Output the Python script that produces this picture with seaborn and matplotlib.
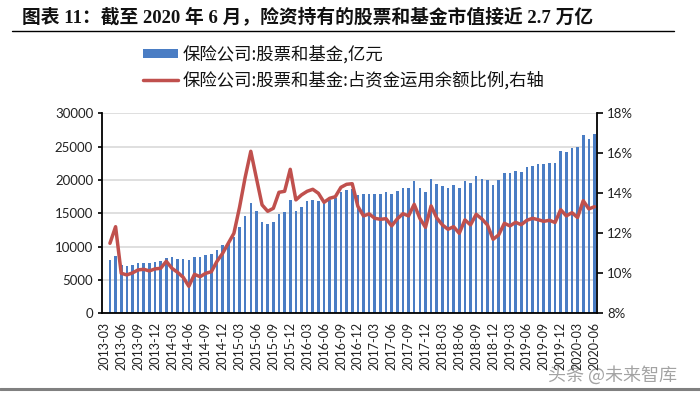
import numpy as np
import pandas as pd
import matplotlib
matplotlib.use("Agg")
import matplotlib.pyplot as plt
from matplotlib.lines import Line2D
import seaborn as sns

# ---------------- data ----------------
months = pd.date_range("2013-03-01", periods=88, freq="MS").strftime("%Y-%m").tolist()

stock_fund = [None, 8000, 8650, 7250, 7100, 7250, 7500, 7500, 7500, 7750, 7850, 8250,
              8400, 8150, 8150, 8000, 8400, 8400, 8750, 8900, 9500, 10250, 10600, 11400,
              13000, 14600, 16500, 15400, 13750, 13350, 13750, 14900, 15250, 17000, 15400,
              15900, 16850, 17000, 16850, 16700, 17000, 17300, 18250, 18550, 18700, 17750,
              17850, 17900, 17900, 17900, 18150, 17900, 18400, 18750, 18750, 19850, 18750,
              18250, 20100, 19350, 19100, 18750, 19250, 18850, 19800, 19600, 20600, 20100,
              20000, 19250, 20000, 21000, 21100, 21350, 21250, 21900, 22150, 22350, 22350,
              22500, 22500, 24400, 24250, 24750, 24900, 26750, 26100, 26850]

ratio = [None, 11.5, 12.33, 10.0, 9.92, 10.02, 10.17, 10.2, 10.12, 10.22, 10.25, 10.6,
         10.25, 10.05, 9.8, 9.35, 9.95, 9.83, 10.0, 10.08, 10.6, 11.0, 11.5, 12.0,
         13.3, 14.8, 16.1, 14.75, 13.42, 13.1, 13.25, 14.05, 14.1, 15.2, 13.67,
         13.92, 14.1, 14.2, 14.0, 13.55, 13.75, 13.83, 14.3, 14.45, 14.48, 13.35,
         12.87, 12.97, 12.75, 12.7, 12.73, 12.37, 12.72, 12.98, 12.87, 13.45, 12.75,
         12.3, 13.37, 12.77, 12.42, 12.2, 12.33, 12.0, 12.67, 12.42, 12.95, 12.72,
         12.42, 11.7, 11.92, 12.5, 12.37, 12.55, 12.43, 12.65, 12.75, 12.68, 12.6,
         12.65, 12.54, 13.18, 12.87, 13.03, 12.79, 13.63, 13.22, 13.33]

left_ticks = [0, 5000, 10000, 15000, 20000, 25000, 30000]
right_ticks = [8, 10, 12, 14, 16, 18]

title = "图表 11：截至 2020 年 6 月，险资持有的股票和基金市值接近 2.7 万亿"
label_bar = "保险公司:股票和基金,亿元"
label_line = "保险公司:股票和基金:占资金运用余额比例,右轴"
watermark = "头条 @未来智库"

df = pd.DataFrame({"month": months,
                   "value": pd.array(stock_fund, dtype="Float64").astype(float),
                   "ratio": pd.array(ratio, dtype="Float64").astype(float)})
df["pos"] = np.arange(len(df))

# ---------------- style ----------------
sns.set_style("white")
plt.rcParams["font.family"] = ["Lato", "Noto Sans CJK SC", "DejaVu Sans"]
plt.rcParams["axes.unicode_minus"] = False

W, H = 700, 394
fig = plt.figure(figsize=(W / 100, H / 100), dpi=100)
ax = fig.add_axes([101.5 / W, 1 - 313.3 / H, (597.3 - 101.5) / W, 200 / H])

bar_color = "#4A7DC4"
line_color = "#C0504D"

sns.barplot(data=df.dropna(subset=["value"]), x="month", y="value", order=months,
            color=bar_color, saturation=1, width=0.46, errorbar=None, ax=ax,
            label=label_bar, linewidth=0)

ax.set_xlim(-0.5, len(months) - 0.5)
ax.set_ylim(0, 30000)
ax.set_yticks(left_ticks)
ax.set_yticklabels([str(v) for v in left_ticks], fontsize=9.5)
ax.yaxis.grid(True, color="#D9D9D9", lw=1.2)
ax.set_axisbelow(True)
ax.set_xlabel("")
ax.set_ylabel("")

xt = list(range(0, len(months), 3))
ax.set_xticks(xt)
ax.set_xticklabels([months[i] for i in xt], rotation=90, fontsize=9)
ax.set_xticks(np.arange(-0.5, len(months), 3), minor=True)
ax.tick_params(axis="x", which="major", length=0, pad=6, colors="#222222")
ax.tick_params(axis="x", which="minor", length=4, width=1.2, color="black", direction="out")
ax.tick_params(axis="y", length=3, width=1.2, color="black", direction="out", pad=3,
               labelcolor="#222222")

for s in ["top", "right"]:
    ax.spines[s].set_visible(False)
for s in ["left", "bottom"]:
    ax.spines[s].set_color("black")
    ax.spines[s].set_linewidth(1.3)

ax2 = ax.twinx()
sns.lineplot(data=df.dropna(subset=["ratio"]), x="pos", y="ratio", ax=ax2,
             color=line_color, lw=2.5, label=label_line, legend=False,
             solid_joinstyle="round", solid_capstyle="round")
ax2.set_xlim(-0.5, len(months) - 0.5)
ax2.set_ylim(8, 18)
ax2.set_yticks(right_ticks)
ax2.set_yticklabels([f"{v}%" for v in right_ticks], fontsize=9.5)
ax2.set_ylabel("")
ax2.set_xlabel("")
ax2.tick_params(axis="y", length=4, width=1.2, color="black", direction="out", pad=3,
                labelcolor="#222222")
for s in ["top", "left", "bottom"]:
    ax2.spines[s].set_visible(False)
ax2.spines["right"].set_color("black")
ax2.spines["right"].set_linewidth(1.3)
ax2.grid(False)

# legend
h1, l1 = ax.get_legend_handles_labels()
h2, l2 = ax2.get_legend_handles_labels()
if ax.get_legend() is not None:
    ax.get_legend().remove()
leg = fig.legend(h1 + h2, l1 + l2, loc="upper left",
                 bbox_to_anchor=(143 / W, 1 - 45 / H), frameon=False,
                 borderpad=0, borderaxespad=0, handlelength=2.0, handleheight=0.45,
                 handletextpad=0.3, labelspacing=0.42,
                 prop={"family": ["Noto Sans CJK SC"], "size": 12.5})
for t in leg.get_texts():
    t.set_color("#111111")

# title and decorations
fig.text(22 / W, 1 - 18 / H, title, ha="left", va="center", fontsize=13.5,
         fontweight="bold", family=["Liberation Serif", "Noto Sans CJK SC"], color="#111111")
fig.add_artist(Line2D([12 / W, 674 / W], [1 - 31 / H, 1 - 31 / H], color="black", lw=1))
fig.add_artist(Line2D([0, 1], [1 - 389 / H, 1 - 389 / H], color="#808080", lw=2.2))
fig.text(548 / W, 1 - 375 / H, watermark, ha="left", va="center", fontsize=13,
         family=["Noto Sans CJK SC"], color="#666666", alpha=0.6)

fig.savefig("out.png", dpi=100)
